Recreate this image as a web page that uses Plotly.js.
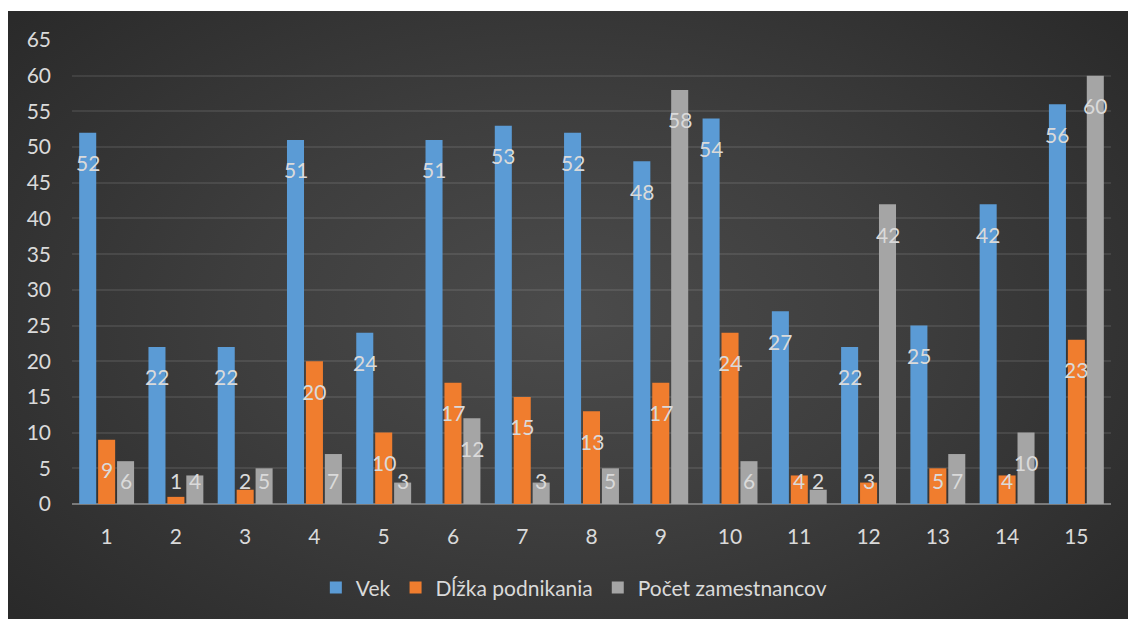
<!DOCTYPE html>
<html>
<head>
<meta charset="utf-8">
<script src="https://cdn.plot.ly/plotly-3.0.1.min.js"></script>
<style>
  html, body { margin: 0; padding: 0; background: #ffffff; }
  #bg {
    position: absolute; left: 8px; top: 11px; width: 1120px; height: 608px;
    background: radial-gradient(ellipse 65% 75% at 50% 50%, #4b4b4b 0%, #3e3e3e 45%, #2a2a2a 100%);
  }
  #chart { position: absolute; left: 0; top: 0; width: 1128px; height: 619px; }
</style>
</head>
<body>
<div id="bg"></div>
<div id="chart"></div>
<script>
const categories = [1, 2, 3, 4, 5, 6, 7, 8, 9, 10, 11, 12, 13, 14, 15];
const seriesNames = ["Vek", "Dĺžka podnikania", "Počet zamestnancov"];
const vek = [52, 22, 22, 51, 24, 51, 53, 52, 48, 54, 27, 22, 25, 42, 56];
const dlzka = [9, 1, 2, 20, 10, 17, 15, 13, 17, 24, 4, 3, 5, 4, 23];
const pocet = [6, 4, 5, 7, 3, 12, 3, 5, 58, 6, 2, 42, 7, 10, 60];
const yTicks = [0, 5, 10, 15, 20, 25, 30, 35, 40, 45, 50, 55, 60, 65];

const colors = ["#5b9bd5", "#f07d2e", "#a5a5a5"];
const allSeries = [vek, dlzka, pocet];
const FONT = "Lato, 'Open Sans', sans-serif";
const TXT = "#dadada";
const bargap = 0.18;

const traces = allSeries.map((vals, j) => ({
  type: "bar",
  name: seriesNames[j],
  x: categories,
  y: vals,
  marker: { color: colors[j] },
  hoverinfo: "x+y+name"
}));

const slot = (1 - bargap) / 3;
const annotations = [];
allSeries.forEach((vals, j) => {
  vals.forEach((v, i) => {
    annotations.push({
      x: categories[i] + (j - 1) * slot,
      y: Math.max(v, 7.5),
      xref: "x", yref: "y",
      text: String(v),
      showarrow: false,
      yanchor: "middle",
      yshift: -30,
      font: { family: FONT, size: 21, color: TXT }
    });
  });
});

const layout = {
  width: 1128, height: 619,
  paper_bgcolor: "rgba(0,0,0,0)",
  plot_bgcolor: "rgba(0,0,0,0)",
  margin: { l: 72, r: 17, t: 40, b: 114 },
  barmode: "group",
  bargap: bargap,
  bargroupgap: 0.1,
  font: { family: FONT, size: 21, color: TXT },
  xaxis: {
    type: "linear",
    range: [0.5, 15.5],
    tickvals: categories,
    ticktext: categories.map(String),
    showgrid: false,
    zeroline: false,
    showline: false,
    ticks: "",
    ticklabelstandoff: 18,
    tickfont: { family: FONT, size: 21, color: TXT }
  },
  yaxis: {
    range: [0, 65],
    tickvals: yTicks,
    ticktext: yTicks.map(String),
    showgrid: true,
    gridcolor: "rgba(255,255,255,0.09)",
    gridwidth: 2,
    zeroline: true,
    zerolinecolor: "#7a7a7a",
    zerolinewidth: 2,
    showline: false,
    ticks: "",
    ticklabelstandoff: 20,
    tickfont: { family: FONT, size: 21, color: TXT }
  },
  legend: {
    orientation: "h",
    x: 0.483, xanchor: "center",
    y: -0.178, yanchor: "middle",
    font: { family: FONT, size: 21, color: TXT },
    bgcolor: "rgba(0,0,0,0)"
  },
  annotations: annotations,
  showlegend: true
};

Plotly.newPlot("chart", traces, layout, { displayModeBar: false, staticPlot: true });
</script>
</body>
</html>
